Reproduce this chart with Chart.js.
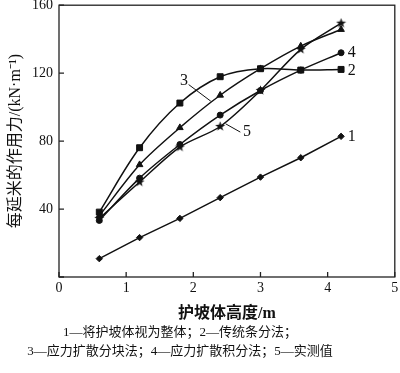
<!DOCTYPE html>
<html>
<head>
<meta charset="utf-8">
<script src="https://cdn.jsdelivr.net/npm/chart.js@4"></script>
<style>
  body { margin: 0; background: #fff; }
  #wrap { width: 400px; height: 373px; }
</style>
</head>
<body>
<div id="wrap"><canvas id="myChart"></canvas></div>
<script>
var heights = [0.6, 1.2, 1.8, 2.4, 3.0, 3.6, 4.2];
var whole = [10.8, 23.2, 34.5, 46.7, 58.8, 70.2, 82.8];        // 1
var slices = [38.2, 76.1, 102.4, 117.9, 122.6, 121.8, 122.2];   // 2
var blocks = [36, 66.1, 87.9, 107, 122.6, 135.9, 145.7];        // 3
var integral = [33.3, 58.2, 78, 95.3, 109.8, 121.8, 132];       // 4
var measured = [34.5, 55.9, 76.5, 88.6, 109.8, 134, 149.4];     // 5
var yTicks = [0, 40, 80, 120, 160];
var xTicks = [0, 1, 2, 3, 4, 5];
var notes = ["1\u2014将护坡体视为整体；2\u2014传统条分法；",
             "3\u2014应力扩散分块法；4\u2014应力扩散积分法；5\u2014实测值"];

var serif = "'Liberation Serif', 'Noto Sans CJK SC', serif";
var ink = "#111";

// small filled star for series 5
var star = document.createElement("canvas");
star.width = 11; star.height = 11;
(function () {
  var c = star.getContext("2d");
  c.fillStyle = ink;
  c.beginPath();
  for (var i = 0; i < 10; i++) {
    var r = i % 2 === 0 ? 5.2 : 2.1;
    var a = -Math.PI / 2 + i * Math.PI / 5;
    c.lineTo(5.5 + r * Math.cos(a), 5.5 + r * Math.sin(a));
  }
  c.closePath();
  c.fill();
})();

function pts(arr) {
  return arr.map(function (v, i) { return { x: heights[i], y: v }; });
}

function series(label, arr, style, radius, tension) {
  return {
    label: label,
    data: pts(arr),
    borderColor: ink,
    backgroundColor: ink,
    borderWidth: 1.5,
    pointStyle: style,
    pointRadius: radius,
    pointBorderWidth: 1,
    tension: tension,
  };
}

// curve numbers and leader lines, in data units
var tags = [
  { t: "3", x: 1.86, y: 115.7, line: [1.93, 113.3, 2.26, 103.5] },
  { t: "5", x: 2.80, y: 85.3, line: [2.48, 90.2, 2.70, 85.3] },
  { t: "4", x: 4.36, y: 132.2 },
  { t: "2", x: 4.36, y: 121.6 },
  { t: "1", x: 4.36, y: 82.8 },
];

var extras = {
  id: "extras",
  afterDraw: function (chart) {
    var c = chart.ctx, a = chart.chartArea;
    var xs = chart.scales.x, ys = chart.scales.y;
    c.save();
    c.strokeStyle = "#222";
    c.lineWidth = 1.3;
    c.strokeRect(a.left, a.top, a.right - a.left, a.bottom - a.top);
    c.beginPath();
    xTicks.forEach(function (v) {
      var px = xs.getPixelForValue(v);
      c.moveTo(px, a.bottom); c.lineTo(px, a.bottom - 5);
    });
    yTicks.forEach(function (v) {
      var py = ys.getPixelForValue(v);
      c.moveTo(a.left, py); c.lineTo(a.left + 5, py);
    });
    c.stroke();

    c.fillStyle = ink;
    c.strokeStyle = ink;
    c.lineWidth = 1;
    c.font = "16px " + serif;
    c.textAlign = "center";
    c.textBaseline = "middle";
    tags.forEach(function (g) {
      c.fillText(g.t, xs.getPixelForValue(g.x), ys.getPixelForValue(g.y));
      if (g.line) {
        c.beginPath();
        c.moveTo(xs.getPixelForValue(g.line[0]), ys.getPixelForValue(g.line[1]));
        c.lineTo(xs.getPixelForValue(g.line[2]), ys.getPixelForValue(g.line[3]));
        c.stroke();
      }
    });

    c.font = "13px " + serif;
    c.fillText(notes[0], 180, 333);
    c.fillText(notes[1], 180, 352);
    c.restore();
  },
};

var ctx = document.getElementById("myChart").getContext("2d");
var myChart = new Chart(ctx, {
  type: "line",
  data: {
    datasets: [
      series("1", whole, "rectRot", 3.2, 0),
      series("2", slices, "rect", 4.2, 0.35),
      series("3", blocks, "triangle", 3.8, 0.3),
      series("4", integral, "circle", 3, 0.3),
      series("5", measured, star, 4, 0.3),
    ],
  },
  options: {
    responsive: true,
    maintainAspectRatio: false,
    animation: false,
    layout: { padding: { top: 5, right: 3, left: 0, bottom: 46 } },
    plugins: { legend: { display: false }, tooltip: { enabled: false } },
    scales: {
      x: {
        type: "linear",
        min: 0,
        max: 5,
        afterBuildTicks: function (s) {
          s.ticks = xTicks.map(function (v) { return { value: v }; });
        },
        afterFit: function (s) {
          s.height = 50; s.paddingLeft = 0; s.paddingRight = 0;
        },
        grid: { display: false, drawTicks: false },
        border: { display: false },
        ticks: { color: ink, padding: 3, font: { family: serif, size: 14 } },
        title: {
          display: true,
          text: "护坡体高度/m",
          color: ink,
          padding: { top: 0, bottom: 4 },
          font: { family: serif, size: 16, weight: "bold" },
        },
      },
      y: {
        min: 0,
        max: 160,
        afterBuildTicks: function (s) {
          s.ticks = yTicks.map(function (v) { return { value: v }; });
        },
        afterFit: function (s) {
          s.width = 59; s.paddingTop = 0; s.paddingBottom = 0;
        },
        grid: { display: false, drawTicks: false },
        border: { display: false },
        ticks: {
          color: ink,
          padding: 6,
          font: { family: serif, size: 14 },
          callback: function (v) { return v === 0 ? "" : v; },
        },
        title: {
          display: true,
          text: "每延米的作用力/(kN·m⁻¹)",
          color: ink,
          padding: { top: 6, bottom: 0 },
          font: { family: serif, size: 16 },
        },
      },
    },
  },
  plugins: [extras],
});
</script>
</body>
</html>
